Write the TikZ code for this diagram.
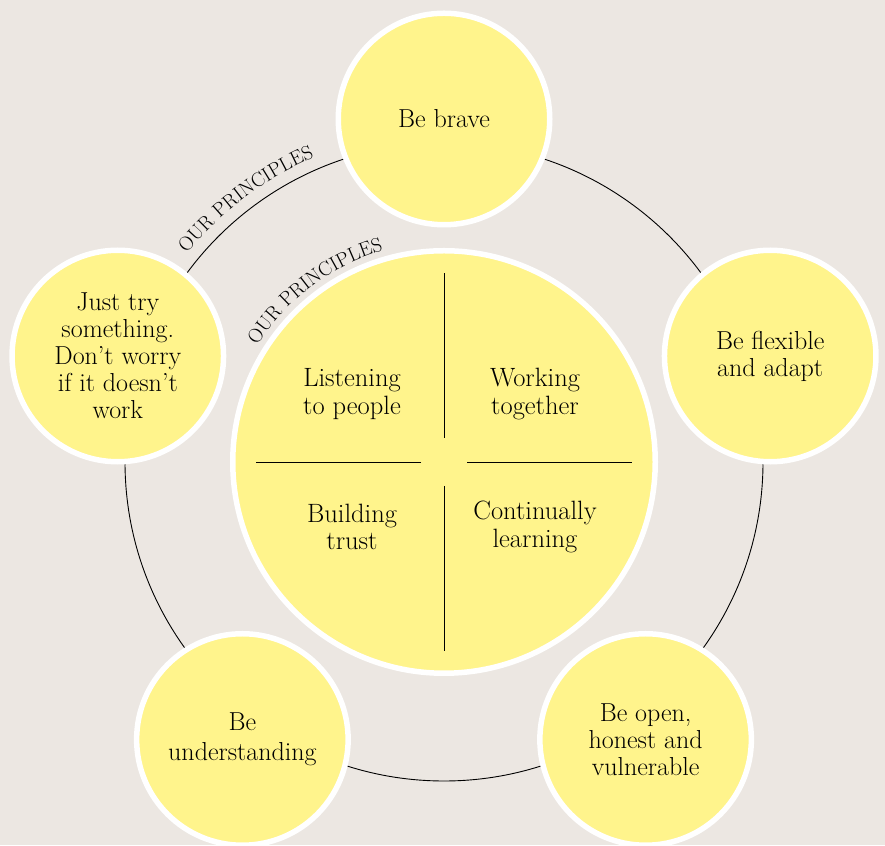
\documentclass[tikz,border=0pt]{standalone}
\usepackage{fontspec}
\usetikzlibrary{decorations.text}
\definecolor{paper}{HTML}{ECE7E2}
\definecolor{sun}{HTML}{FFF48C}
\begin{document}
\begin{tikzpicture}[x=1pt,y=1pt,
  petal/.style={circle, fill=sun, draw=white, line width=5.5pt,
    minimum size=211.5pt, inner sep=0pt, align=center,
    font=\fontsize{26}{27}\selectfont},
  core/.style={circle, fill=sun, draw=white, line width=5.5pt,
    minimum size=422.5pt, inner sep=0pt},
  quad/.style={align=center, font=\fontsize{26.5}{27.5}\selectfont},
  divider/.style={line width=0.9pt},
  ring/.style={line width=0.9pt},
  arctext/.style={decorate, decoration={text along path, text align=center,
    text={|\fontsize{20}{22}\selectfont|OUR PRINCIPLES}}}
]
% paper background
\fill[paper] (0,0) rectangle (885,845);
\useasboundingbox (0,0) rectangle (885,845);

\coordinate (c) at (444,383);

% ring joining the five principles
\draw[ring] (c) circle[radius=319];

% central disc with four quadrants
\node[core] (core) at (c) {};
\draw[divider] ([yshift=24]c) coordinate (n1) -- ([yshift=189]c) coordinate (n2);
\draw[divider] ([yshift=-24]c) coordinate (s1) -- ([yshift=-189]c) coordinate (s2);
\draw[divider] ([xshift=-23]c) coordinate (w1) -- ([xshift=-188]c) coordinate (w2);
\draw[divider] ([xshift=23]c) coordinate (e1) -- ([xshift=188]c) coordinate (e2);

\node[quad] (listen) at ([shift={(-92,68)}]c) {Listening\\to people};
\node[quad] (work)   at ([shift={(91,68)}]c)  {Working\\together};
\node[quad] (trust)  at ([shift={(-92,-65)}]c) {Building\\trust};
\node[quad] (learn)  at ([shift={(91,-65)}]c)  {Continually\\learning};

% the five principle circles
\node[petal] (brave)  at ([shift={(90:343)}]c)   {Be brave};
\node[petal] (flex)   at ([shift={(18:343)}]c)   {Be flexible\\and adapt};
\node[petal] (open)   at ([shift={(-54:343)}]c)  {Be open,\\honest and\\vulnerable};
\node[petal] (under)  at ([shift={(-126:343)}]c) {Be\\[3pt]understanding};
\node[petal] (try)    at ([shift={(162:343)}]c)  {Just try\\something.\\Don’t worry\\if it doesn’t\\work};

% curved captions
\path[arctext, shift={(444,383)}] (144:331) arc[start angle=144, end angle=110, radius=331];
\path[arctext, shift={(444,383)}] (152:220) arc[start angle=152, end angle=102, radius=220];
\end{tikzpicture}
\end{document}
